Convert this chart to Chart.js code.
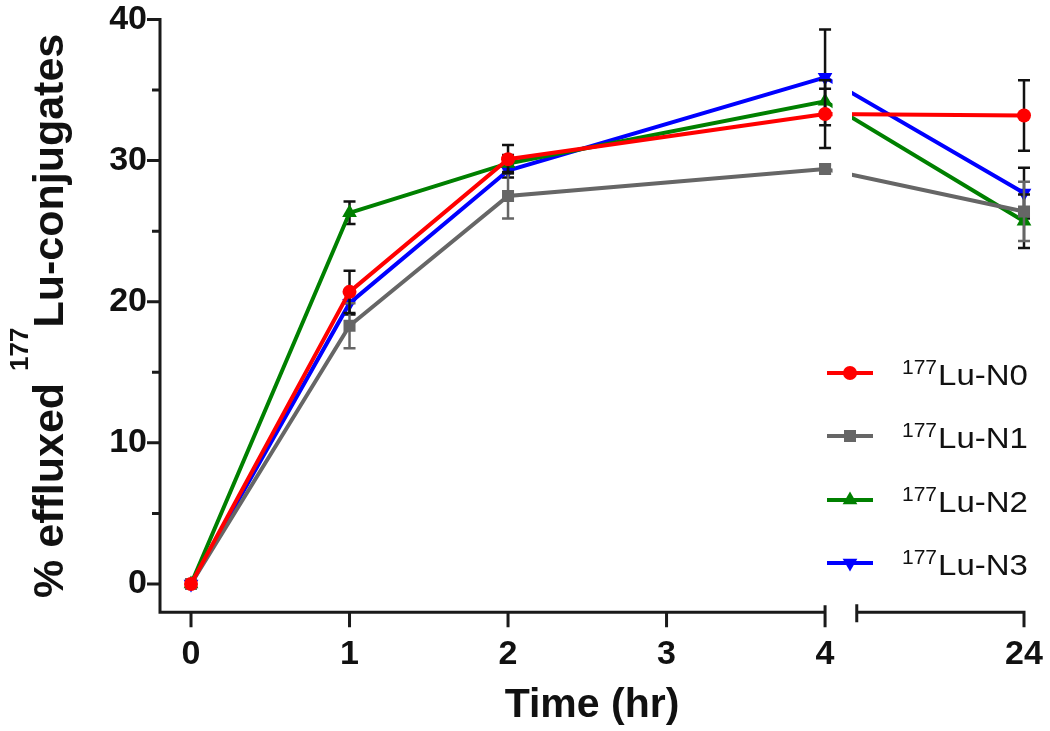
<!DOCTYPE html>
<html><head><meta charset="utf-8">
<script src="https://cdn.jsdelivr.net/npm/chart.js@4.4.1/dist/chart.umd.min.js"></script>
<style>html,body{margin:0;padding:0;background:#fff;}canvas{display:block;}</style>
</head><body>
<canvas id="c" width="1050" height="731"></canvas>
<script>
// ---------- data ----------
const times = [0, 1, 2, 4, 24];
const xTickValues = [0, 1, 2, 3, 4, 24];
const yTickValues = [0, 10, 20, 30, 40];
const yMinorTicks = [5, 15, 25, 35];
const isotope = '177';
const seriesNames = ['Lu-N0', 'Lu-N1', 'Lu-N2', 'Lu-N3'];

const n0 = [0, 20.7, 30.1, 33.3, 33.2];
const n0Err = [0, 1.5, 1.0, 2.4, 2.5];
const n1 = [0, 18.3, 27.5, 29.4, 26.4];
const n1Err = [0, 1.6, 1.6, 0.3, 2.1];
const n2 = [0, 26.3, 29.8, 34.2, 25.7];
const n2Err = [0, 0.8, 0.6, 0.9, 1.9];
const n3 = [0, 19.9, 29.3, 35.9, 27.7];
const n3Err = [0, 0.8, 0.5, 3.4, 1.8];

// ---------- layout / style ----------
const BREAK_AT = 4;            // last value before the axis break
const AFTER_BREAK_POS = 5.255; // axis position used for the value after the break
const GAP_AXIS_END = 4.2;      // axis resumes here
const GAP_LINE_END = 4.17;     // data lines resume here
function axisPos(t) { return t <= BREAK_AT ? t : AFTER_BREAK_POS; }

const colors = ['#ff0000', '#666666', '#008000', '#0000ff'];
const errColors = ['#111111', '#666666', '#111111', '#111111'];
const shapes = ['circle', 'rect', 'triangle', 'triangle'];
const rotations = [0, 0, 0, 180];
const radii = [7, 8.5, 8.5, 8.5];
const values = [n0, n1, n2, n3];
const errors = [n0Err, n1Err, n2Err, n3Err];
const AXIS = '#1a1a1a';
const FONT = '"Liberation Sans", Arial, sans-serif';

const datasets = values.map((v, i) => ({
  label: isotope + seriesNames[i],
  data: times.map((t, k) => ({ x: axisPos(t), y: v[k] })),
  borderColor: colors[i],
  backgroundColor: colors[i],
  borderWidth: 4,
  pointStyle: shapes[i],
  pointRotation: rotations[i],
  pointRadius: radii[i],
  pointBorderWidth: 0,
  pointHoverRadius: radii[i],
  tension: 0,
  clip: false,
  errs: errors[i],
  errColor: errColors[i]
}));

const errorAndGapPlugin = {
  id: 'errgap',
  beforeDatasetDraw(chart, args) {
    const ctx = chart.ctx, ds = chart.data.datasets[args.index];
    const xs = chart.scales.x, ys = chart.scales.y;
    ctx.save();
    ctx.strokeStyle = ds.errColor;
    ctx.lineWidth = 2.5;
    ds.data.forEach((p, k) => {
      const e = ds.errs[k];
      if (!e) return;
      const px = xs.getPixelForValue(p.x);
      const y1 = ys.getPixelForValue(p.y + e), y2 = ys.getPixelForValue(p.y - e);
      ctx.beginPath();
      ctx.moveTo(px, y1); ctx.lineTo(px, y2);
      ctx.moveTo(px - 6, y1); ctx.lineTo(px + 6, y1);
      ctx.moveTo(px - 6, y2); ctx.lineTo(px + 6, y2);
      ctx.stroke();
    });
    ctx.restore();
    const gx1 = xs.getPixelForValue(BREAK_AT) + 7.5;
    const gx2 = xs.getPixelForValue(GAP_LINE_END);
    ctx.save();
    ctx.beginPath();
    ctx.rect(0, 0, chart.width, chart.height);
    ctx.rect(gx1, 0, gx2 - gx1, chart.height);
    ctx.clip('evenodd');
  },
  afterDatasetDraw(chart) { chart.ctx.restore(); }
};

const axesPlugin = {
  id: 'axes',
  beforeDatasetsDraw(chart) {
    const ctx = chart.ctx, xs = chart.scales.x, ys = chart.scales.y, a = chart.chartArea;
    const x0 = a.left, yb = a.bottom;
    ctx.save();
    ctx.strokeStyle = AXIS; ctx.lineWidth = 3; ctx.lineCap = 'butt';
    ctx.beginPath();
    ctx.moveTo(x0, ys.getPixelForValue(yTickValues[yTickValues.length - 1]) - 1.5);
    ctx.lineTo(x0, yb + 1.5);
    yTickValues.forEach(v => { const y = ys.getPixelForValue(v); ctx.moveTo(x0 - 13, y); ctx.lineTo(x0, y); });
    yMinorTicks.forEach(v => { const y = ys.getPixelForValue(v); ctx.moveTo(x0 - 8, y); ctx.lineTo(x0, y); });
    const p4 = xs.getPixelForValue(BREAK_AT);
    ctx.moveTo(x0 - 1.5, yb); ctx.lineTo(p4, yb);
    ctx.moveTo(p4, yb - 7); ctx.lineTo(p4, yb + 15);
    xTickValues.filter(t => t < BREAK_AT).forEach(t => {
      const x = xs.getPixelForValue(axisPos(t)); ctx.moveTo(x, yb); ctx.lineTo(x, yb + 15);
    });
    const g = xs.getPixelForValue(GAP_AXIS_END), pe = xs.getPixelForValue(AFTER_BREAK_POS);
    ctx.moveTo(g, yb - 8); ctx.lineTo(g, yb + 10);
    ctx.moveTo(g, yb); ctx.lineTo(pe + 1.5, yb);
    ctx.moveTo(pe, yb); ctx.lineTo(pe, yb + 15);
    ctx.stroke();
    ctx.restore();
  }
};

const textPlugin = {
  id: 'texts',
  afterDraw(chart) {
    const ctx = chart.ctx, a = chart.chartArea;
    ctx.save();
    ctx.fillStyle = '#111';
    ctx.font = 'bold 41px ' + FONT;
    ctx.textAlign = 'center'; ctx.textBaseline = 'alphabetic';
    ctx.fillText('Time (hr)', (a.left + a.right) / 2, 717);
    const pre = '% effluxed ', post = 'Lu-conjugates';
    const mainF = 'bold 43px ' + FONT, supF = 'bold 26px ' + FONT;
    ctx.font = mainF; const w1 = ctx.measureText(pre).width, w3 = ctx.measureText(post).width;
    ctx.font = supF; const w2 = ctx.measureText(isotope).width;
    const total = w1 + w2 + w3;
    ctx.translate(63, (a.top + a.bottom) / 2);
    ctx.rotate(-Math.PI / 2);
    ctx.textAlign = 'left';
    let x = -total / 2;
    ctx.font = mainF; ctx.fillText(pre, x, 0); x += w1;
    ctx.font = supF; ctx.fillText(isotope, x, -35); x += w2;
    ctx.font = mainF; ctx.fillText(post, x, 0);
    ctx.restore();

    ctx.save();
    const rowY = [373, 436, 500, 563];
    chart.data.datasets.forEach((ds, i) => {
      const y = rowY[i];
      ctx.strokeStyle = ds.borderColor; ctx.lineWidth = 4;
      ctx.beginPath(); ctx.moveTo(827, y); ctx.lineTo(873, y); ctx.stroke();
      ctx.fillStyle = ds.backgroundColor; ctx.strokeStyle = ds.borderColor;
      Chart.helpers.drawPoint(ctx, { pointStyle: ds.pointStyle, rotation: ds.pointRotation, borderWidth: 0, radius: ds.pointRadius }, 850, y);
    });
    ctx.restore();
    chart.data.datasets.forEach((ds, i) => {
      const y = rowY[i];
      ctx.save();
      ctx.fillStyle = '#111';
      ctx.textAlign = 'left'; ctx.textBaseline = 'alphabetic';
      ctx.font = '21px ' + FONT; ctx.fillText(isotope, 902, y + 1);
      const ws = ctx.measureText(isotope).width;
      ctx.translate(902 + ws + 1, y + 12);
      ctx.scale(1.1, 1);
      ctx.font = '30px ' + FONT; ctx.fillText(seriesNames[i], 0, 0);
      ctx.restore();
    });
  }
};

function zeroPad(s) { s.paddingTop = 0; s.paddingBottom = 0; s.paddingLeft = 0; s.paddingRight = 0; }

new Chart(document.getElementById('c'), {
  type: 'line',
  data: { datasets },
  options: {
    responsive: false,
    devicePixelRatio: 1,
    animation: false,
    layout: { padding: { top: 19.5, right: 26, left: 0, bottom: 0 } },
    plugins: { legend: { display: false }, tooltip: { enabled: false } },
    events: [],
    scales: {
      x: {
        type: 'linear',
        min: -0.1956, max: AFTER_BREAK_POS,
        grid: { display: false, drawTicks: false },
        border: { display: false },
        afterBuildTicks: s => { s.ticks = xTickValues.map(t => ({ value: axisPos(t) })); },
        afterFit: s => { s.height = 731 - 612.2; zeroPad(s); },
        ticks: {
          padding: 22, color: '#111', maxRotation: 0, autoSkip: false,
          font: { family: FONT, size: 34, weight: 'bold' },
          callback: v => { const t = xTickValues.find(t => Math.abs(axisPos(t) - v) < 1e-6); return t === undefined ? '' : String(t); }
        }
      },
      y: {
        min: -2, max: 40,
        grid: { display: false, drawTicks: false },
        border: { display: false },
        afterBuildTicks: s => { s.ticks = yTickValues.map(v => ({ value: v })); },
        afterFit: s => { s.width = 160; zeroPad(s); },
        ticks: { padding: 13, color: '#111', font: { family: FONT, size: 34, weight: 'bold' } }
      }
    }
  },
  plugins: [errorAndGapPlugin, axesPlugin, textPlugin]
});
</script>
</body></html>
